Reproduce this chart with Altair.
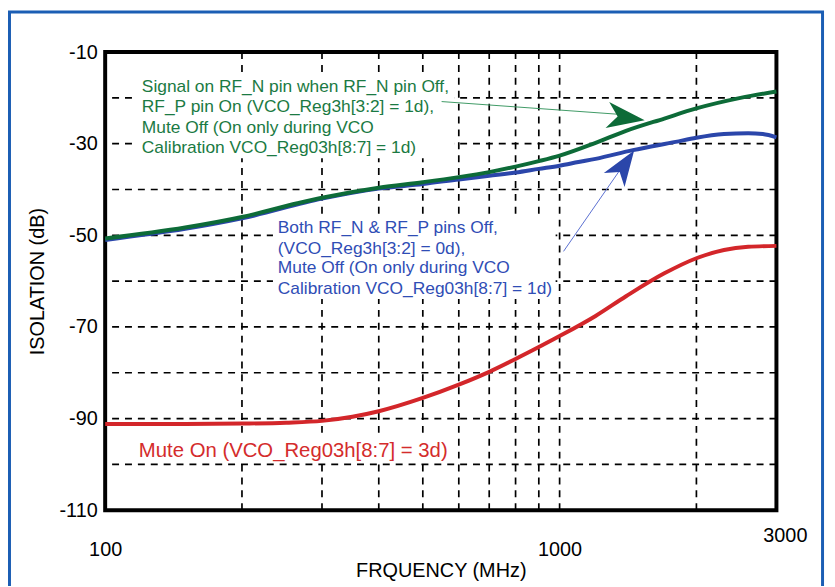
import altair as alt
import pandas as pd

# ---- data ----
freq_green = [100, 150, 200, 265, 300, 400, 500, 600, 700, 800, 900, 1000, 1200, 1400, 1700, 2000, 2500, 3000]
db_green = [-50.7, -48.3, -46.0, -43.0, -41.8, -39.6, -38.4, -37.3, -36.2, -35.0, -33.8, -32.6, -29.8, -27.2, -24.5, -22.3, -20.0, -18.6]

freq_blue = [100, 150, 200, 300, 400, 500, 600, 700, 800, 900, 1000, 1100, 1200, 1450, 1800, 2000, 2300, 2600, 2800, 3000]
db_blue = [-51.0, -48.6, -46.3, -42.0, -39.8, -38.8, -37.8, -37.0, -36.3, -35.5, -34.8, -34.0, -33.3, -31.4, -29.6, -28.7, -27.9, -27.7, -27.9, -28.6]

freq_red = [100, 150, 200, 250, 300, 350, 400, 500, 600, 700, 800, 900, 1000, 1200, 1400, 1700, 2000, 2300, 2600, 3000]
db_red = [-91.2, -91.2, -91.1, -90.9, -90.5, -89.6, -88.4, -85.5, -82.6, -79.8, -77.0, -74.4, -72.0, -67.6, -63.3, -58.3, -55.0, -53.2, -52.5, -52.3]

grid_x = [200, 300, 400, 500, 600, 700, 800, 900, 1000, 2000]
grid_y = [-100, -90, -80, -70, -60, -50, -40, -30, -20]
y_tick_labels = [-110, -90, -70, -50, -30, -10]
x_tick_labels = [100, 1000]
x_end_label = [3000]

green_text = ["Signal on RF_N pin when RF_N pin Off,", "RF_P pin On (VCO_Reg3h[3:2] = 1d),",
              "Mute Off (On only during VCO", "Calibration VCO_Reg03h[8:7] = 1d)"]
green_text_f = [120.4, 120.4, 120.4, 120.4]
green_text_v = [-17.6, -22.1, -26.5, -31.0]

blue_text = ["Both RF_N & RF_P pins Off,", "(VCO_Reg3h[3:2] = 0d),",
             "Mute Off (On only during VCO", "Calibration VCO_Reg03h[8:7] = 1d)"]
blue_text_f = [239.8, 239.8, 239.8, 239.8]
blue_text_v = [-48.5, -52.9, -57.2, -61.7]

red_text = ["Mute On (VCO_Reg03h[8:7] = 3d)"]
red_text_f = [118.6]
red_text_v = [-97.0]

# white boxes behind the annotation texts (freq1, freq2, db1, db2)
box_f1 = [116.9, 234, 116.9]
box_f2 = [587, 980, 596]
box_v1 = [-15.2, -45.9, -94.0]
box_v2 = [-33.2, -63.9, -99.6]

# arrows
green_shaft_f = [550, 1359]
green_shaft_v = [-20.8, -23.6]
green_head_f = [1400]
green_head_v = [-24.3]
blue_shaft_f = [1020, 1352]
blue_shaft_v = [-53.5, -36.0]
blue_head_f = [1387]
blue_head_v = [-34.7]

# ---- chart ----
FONT = "Liberation Sans"
GREEN_LINE = "#0d6b38"
BLUE_LINE = "#2b46aa"
RED_LINE = "#d3262a"
GREEN_TXT = "#1b7a43"
BLUE_TXT = "#2f4db5"
RED_TXT = "#d42c2c"

xs = alt.Scale(type="log", domain=[100, 3000], nice=False)
ys = alt.Scale(domain=[-110, -10], nice=False)

x_axis = alt.Axis(values=x_tick_labels, labelExpr="'' + datum.value", grid=False, ticks=False,
                  domain=False, labelFontSize=20, labelPadding=30, labelFlush=False,
                  title="FRQUENCY (MHz)", titleFontSize=20, titleFontWeight="normal",
                  titlePadding=1, labelFont=FONT, titleFont=FONT,
                  labelColor="black", titleColor="black")
y_axis = alt.Axis(values=y_tick_labels, labelExpr="'' + datum.value", grid=False, ticks=False, domain=False,
                  labelFontSize=20, labelPadding=8, labelFlush=False, title="ISOLATION (dB)",
                  titleFontSize=20, titleFontWeight="normal", titlePadding=12,
                  labelFont=FONT, titleFont=FONT,
                  labelColor="black", titleColor="black")


def X():
    return alt.X("f:Q", scale=xs, axis=x_axis, title="FRQUENCY (MHz)")


def Y():
    return alt.Y("v:Q", scale=ys, axis=y_axis, title="ISOLATION (dB)")


curves = pd.concat([
    pd.DataFrame({"f": freq_blue, "v": db_blue, "s": "blue"}),
    pd.DataFrame({"f": freq_green, "v": db_green, "s": "green"}),
    pd.DataFrame({"f": freq_red, "v": db_red, "s": "red"}),
])

vgrid = alt.Chart(pd.DataFrame({"f": grid_x})).mark_rule(color="black", strokeWidth=1.7, strokeDash=[7, 6]).encode(x=X())
hgrid = alt.Chart(pd.DataFrame({"v": grid_y})).mark_rule(color="black", strokeWidth=1.7, strokeDash=[7, 6]).encode(y=Y())

boxes = alt.Chart(pd.DataFrame({"f": box_f1, "f2": box_f2, "v": box_v1, "v2": box_v2})).mark_rect(
    color="white").encode(x=X(), x2="f2:Q", y=Y(), y2="v2:Q")

lines = alt.Chart(curves).mark_line(strokeWidth=4, interpolate="monotone").encode(
    x=X(), y=Y(), detail="s:N",
    color=alt.Color("s:N", scale=alt.Scale(domain=["blue", "green", "red"],
                                           range=[BLUE_LINE, GREEN_LINE, RED_LINE]), legend=None),
)


def texts(t, f, v, color, size):
    return alt.Chart(pd.DataFrame({"t": t, "f": f, "v": v})).mark_text(
        align="left", baseline="middle", font=FONT, fontSize=size, color=color).encode(x=X(), y=Y(), text="t:N")


gtext = texts(green_text, green_text_f, green_text_v, GREEN_TXT, 17.5)
btext = texts(blue_text, blue_text_f, blue_text_v, BLUE_TXT, 17.5)
rtext = texts(red_text, red_text_f, red_text_v, RED_TXT, 20.5)

HEAD = "M1,0 L-1,-0.7 L-0.45,0 L-1,0.7 Z"
gshaft = alt.Chart(pd.DataFrame({"f": green_shaft_f, "v": green_shaft_v})).mark_line(
    color="#3f9a65", strokeWidth=1).encode(x=X(), y=Y())
ghead = alt.Chart(pd.DataFrame({"f": green_head_f, "v": green_head_v})).mark_point(
    shape=HEAD, filled=True, opacity=1, color=GREEN_LINE, size=1444, angle=8, strokeWidth=0).encode(x=X(), y=Y())
bshaft = alt.Chart(pd.DataFrame({"f": blue_shaft_f, "v": blue_shaft_v})).mark_line(
    color="#5a6fd0", strokeWidth=1).encode(x=X(), y=Y())
bhead = alt.Chart(pd.DataFrame({"f": blue_head_f, "v": blue_head_v})).mark_point(
    shape=HEAD, filled=True, opacity=1, color=BLUE_LINE, size=1296, angle=304, strokeWidth=0).encode(x=X(), y=Y())

endlabel = alt.Chart(pd.DataFrame({"f": x_end_label, "v": [-110]})).mark_text(
    font=FONT, fontSize=20, baseline="middle", align="center", dy=26, dx=9, color="black").encode(
    x=X(), y=Y(), text=alt.Text("f:Q", format="d"))

frame = alt.Chart(pd.DataFrame({"a": [0]})).mark_rect(
    fillOpacity=0, stroke="#1b5eb4", strokeWidth=3).encode(
    x=alt.value(-96.5), x2=alt.value(723.5), y=alt.value(-40.5), y2=alt.value(545))

chart = alt.layer(
    vgrid, hgrid, boxes, lines, gtext, btext, rtext,
    gshaft, ghead, bshaft, bhead, endlabel, frame
).properties(
    width=677, height=462,
    autosize=alt.AutoSizeParams(type="none"),
    padding={"left": 98, "top": 42, "right": 51, "bottom": 74},
    background="white",
).configure_view(stroke="black", strokeWidth=4)

chart.save("out.html", embed_options={"renderer": "svg", "actions": False})
